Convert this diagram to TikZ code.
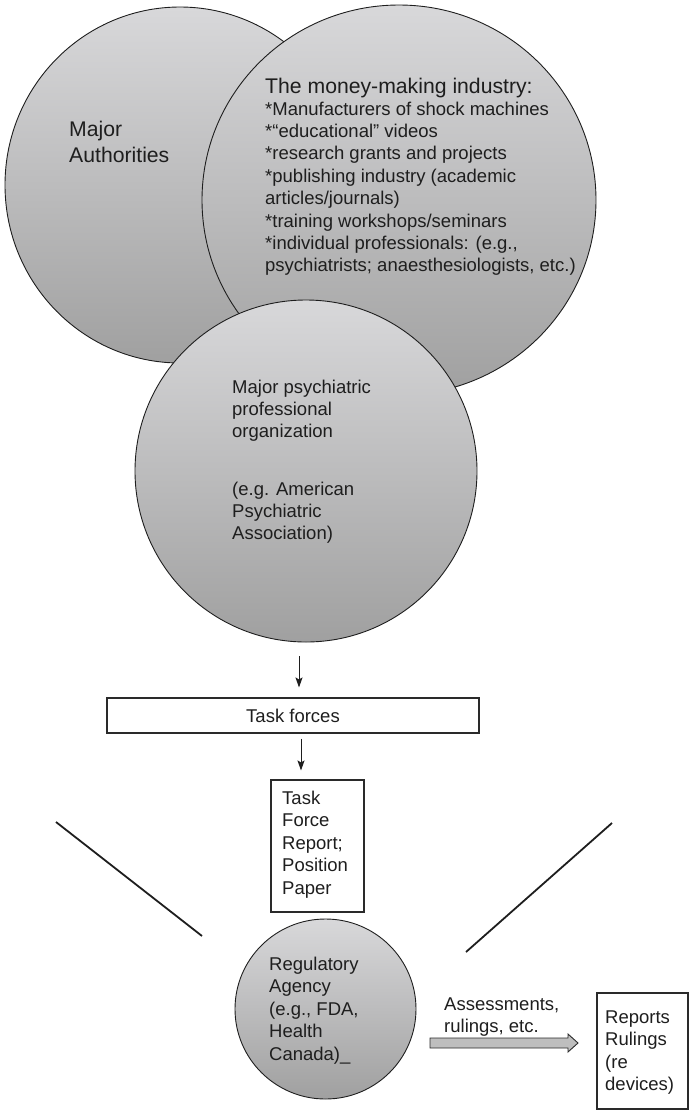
\documentclass[tikz,border=0pt]{standalone}
\usepackage{fontspec}
\setmainfont{Liberation Sans}
\usetikzlibrary{shapes.geometric,arrows.meta,calc}
\definecolor{gtop}{HTML}{D8D8DA}
\definecolor{gbot}{HTML}{A0A0A0}
\definecolor{ink}{HTML}{1E1E1E}
\definecolor{edge}{HTML}{2A2A2A}
\definecolor{arrowfill}{HTML}{BEBEBE}
\begin{document}
% text blocks are placed by the baseline of their last line
\begin{tikzpicture}[x=1pt,y=-1pt,
  blob/.style={ellipse, draw=ink, line width=0.9pt, top color=gtop, bottom color=gbot, inner sep=0pt},
  txt/.style={font=\fontsize{18.5}{22.4}\selectfont, text=ink, align=left, anchor=base west, inner sep=0pt},
  bigtxt/.style={font=\fontsize{21.2}{26}\selectfont, text=ink, align=left, anchor=base west, inner sep=0pt},
  frame/.style={draw=edge, line width=1.1pt, fill=white, inner sep=0pt},
  flow/.style={draw=ink, line width=0.9pt, -{Stealth[length=10pt,width=7pt,inset=2pt]}},
  slash/.style={draw=ink, line width=1.8pt}]
\useasboundingbox (0,0) rectangle (693,1112);

% overlapping ellipses of the upper cluster
\node[blob, minimum width=350pt, minimum height=356pt] (auth) at (180,185) {};
\node[blob, minimum width=394pt, minimum height=390pt] (money) at (399,200) {};
\node[blob, minimum width=342pt, minimum height=342pt] (org) at (306,471) {};

\node[bigtxt] (authtxt) at (69,162) {Major\\Authorities};
\node[bigtxt] (moneyhead) at (265,93) {The money-making industry:};
\node[txt] (moneylist) at (265,271.8) {*Manufacturers of shock machines\\
*“educational” videos\\
*research grants and projects\\
*publishing industry (academic\\
articles/journals)\\
*training workshops/seminars\\
*individual professionals: (e.g.,\\
psychiatrists; anaesthesiologists, etc.)};

\node[txt] (orgtxt) at (232,437.8) {Major psychiatric\\professional\\organization};
\node[txt] (orgeg) at (232,539.8) {(e.g. American\\Psychiatric\\Association)};

% task forces and their report
\node[frame, minimum width=372pt, minimum height=35pt, font=\fontsize{18.5}{22.4}\selectfont, text=ink] (tf) at (293,715.5) {Task forces};
\node[frame, minimum width=93pt, minimum height=132pt] (rep) at (317.5,846) {};
\node[txt] (reptxt) at (282,894.1) {Task\\Force\\Report;\\Position\\Paper};

\draw[flow, shorten <=14pt, shorten >=10pt] (org.south -| 299,0) -- (tf.north -| 299,0);
\draw[flow, shorten <=5pt, shorten >=9pt] (tf.south -| 301,0) -- (rep.north -| 301,0);

% converging strokes
\coordinate (l1) at (56,822);
\coordinate (l2) at (202,936);
\coordinate (r1) at (612,823);
\coordinate (r2) at (466,952);
\draw[slash] (l1) -- (l2);
\draw[slash] (r1) -- (r2);

% regulatory agency
\node[blob, minimum width=181pt, minimum height=180pt] (reg) at (325.5,1009) {};
\node[txt] (regtxt) at (269,1060.1) {Regulatory\\Agency\\(e.g., FDA,\\Health\\Canada)\_};

% outcome box
\node[frame, minimum width=91pt, minimum height=116pt] (out) at (642.5,1051) {};
\node[txt] (outtxt) at (605,1090.7) {Reports\\Rulings\\(re\\devices)};

% block arrow towards the outcome box
\coordinate (ba0) at (430,1043);
\coordinate (ba1) at (578,1043);
\draw[draw=edge, line width=0.9pt, fill=arrowfill, line join=miter]
  ($(ba0)+(0,-5)$) -- ($(ba1)+(-10,-5)$) -- ($(ba1)+(-10,-9)$) -- (ba1)
  -- ($(ba1)+(-10,9)$) -- ($(ba1)+(-10,5)$) -- ($(ba0)+(0,5)$) -- cycle;
\node[txt] (asstxt) at (444,1032.4) {Assessments,\\rulings, etc.};
\end{tikzpicture}
\end{document}
